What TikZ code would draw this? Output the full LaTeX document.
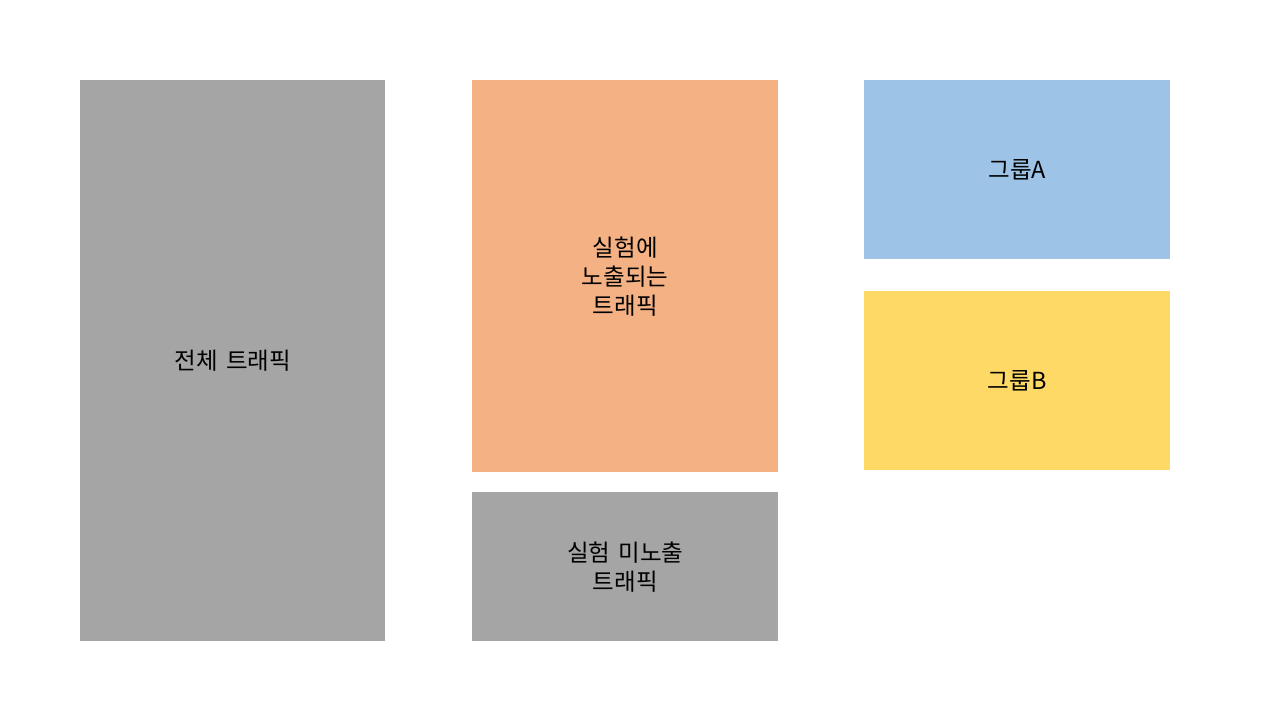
\documentclass[tikz,border=0pt]{standalone}
\usepackage{fontspec}
\setmainfont{Noto Sans CJK KR}
\usepackage{tikz}

\definecolor{boxgray}{HTML}{A5A5A5}
\definecolor{boxorange}{HTML}{F4B183}
\definecolor{boxblue}{HTML}{9DC3E6}
\definecolor{boxyellow}{HTML}{FFD966}

\tikzset{
  trafficbox/.style={draw=none, inner sep=0pt, align=center, anchor=north west,
    font=\fontsize{23.5}{29}\selectfont, text=black},
}

\begin{document}
\begin{tikzpicture}[x=1pt, y=-1pt]
\useasboundingbox (0,0) rectangle (1280,720);
\node [trafficbox, fill=boxgray, minimum width=305pt, minimum height=561pt] (total) at (80,80) {전체\hspace{0.35em}트래픽};
\node [trafficbox, fill=boxorange, minimum width=306pt, minimum height=392pt] (exposed) at (472,80) {실험에\\노출되는\\트래픽};
\node [trafficbox, fill=boxgray, minimum width=306pt, minimum height=149pt] (unexposed) at (472,492) {실험\hspace{0.35em}미노출\\트래픽};
\node [trafficbox, fill=boxblue, minimum width=306pt, minimum height=179pt] (groupa) at (864,80) {그룹A};
\node [trafficbox, fill=boxyellow, minimum width=306pt, minimum height=179pt] (groupb) at (864,291) {그룹B};
\end{tikzpicture}
\end{document}
